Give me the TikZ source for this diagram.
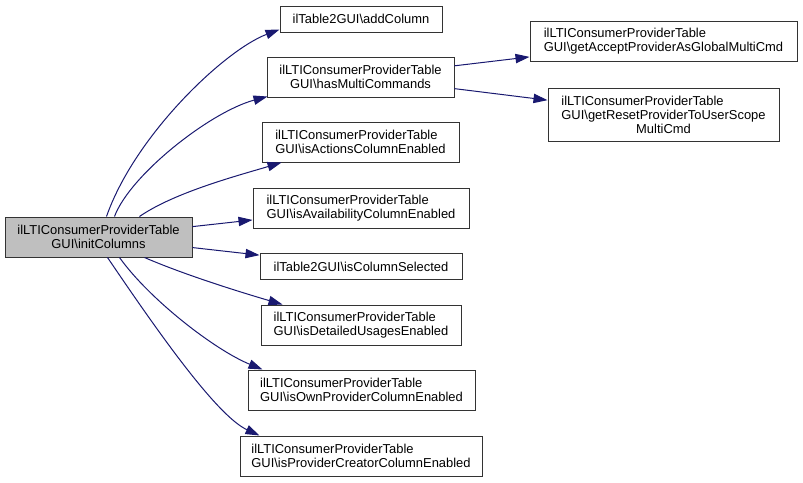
\documentclass[tikz,border=0pt]{standalone}
\usepackage{fontspec}
\setmainfont{Liberation Sans}
\usetikzlibrary{arrows.meta,calc}
\definecolor{EdgeBlue}{rgb}{0.098, 0.098, 0.439}
\definecolor{BoxGray}{rgb}{0.75, 0.75, 0.75}
\tikzset{call graph layout/.style={%
    y=-0.75pt,%
    x=0.75pt,%
    every node/.style={%
        draw=black!80, line width=0.75pt, inner sep=0pt, fill=white,%
        font=\fontsize{9.7}{10.5}\selectfont%
    },%
    call/.style={%
        EdgeBlue, line width=0.75pt, -{Triangle[width=7pt,length=10.5pt]}%
    }%
}}
\tikzset{box one/.style={minimum height=19.5pt, align=center}}
\tikzset{box two/.style={minimum height=30pt}}
\tikzset{box three/.style={minimum height=39.75pt, align=center}}

\begin{document}
\begin{tikzpicture}[call graph layout]
    \useasboundingbox (0,0) rectangle (803,482);

    \node (init) at (98.5,237) [box two, align=center, fill=BoxGray, minimum width=140.25pt]
        {ilLTIConsumerProviderTable\\GUI\textbackslash initColumns};
    \node (addcol) at (361,19) [box one, minimum width=121.5pt]
        {ilTable2GUI\textbackslash addColumn};
    \node (hasmulti) at (360.5,77) [box two, align=center, minimum width=140.25pt]
        {ilLTIConsumerProviderTable\\GUI\textbackslash hasMultiCommands};
    \node (getaccept) at (663.5,41) [box two, align=left, minimum width=200.25pt]
        {ilLTIConsumerProviderTable\\GUI\textbackslash getAcceptProviderAsGlobalMultiCmd};
    \node (getreset) at (663.5,114.5) [box three, minimum width=173.25pt]
        {\rlap{ilLTIConsumerProviderTable}\phantom{GUI\textbackslash getResetProviderToUserScope}\\GUI\textbackslash getResetProviderToUserScope\\MultiCmd};
    \node (isactions) at (360.5,142) [box two, align=left, minimum width=147.75pt]
        {ilLTIConsumerProviderTable\\GUI\textbackslash isActionsColumnEnabled};
    \node (isavail) at (361,208) [box two, align=left, minimum width=162pt]
        {ilLTIConsumerProviderTable\\GUI\textbackslash isAvailabilityColumnEnabled};
    \node (iscolsel) at (361,266.5) [box one, minimum width=151.5pt]
        {ilTable2GUI\textbackslash isColumnSelected};
    \node (isdetailed) at (361,325) [box two, align=left, minimum width=150pt]
        {ilLTIConsumerProviderTable\\GUI\textbackslash isDetailedUsagesEnabled};
    \node (isown) at (361.5,390) [box two, align=left, minimum width=170.25pt]
        {ilLTIConsumerProviderTable\\GUI\textbackslash isOwnProviderColumnEnabled};
    \node (isprov) at (361,456) [box two, align=left, minimum width=181.5pt]
        {ilLTIConsumerProviderTable\\GUI\textbackslash isProviderCreatorColumnEnabled};

    \draw[call] ($(init.north west)+(102,0)$) .. controls (135,135) and (225,50) .. ($(addcol.south west)+(0,-3)$);
    \draw[call] ($(init.north west)+(110,0)$) .. controls (130,175) and (210,112) .. ($(hasmulti.south west)+(1,-1)$);
    \draw[call] ($(init.north west)+(135,0)$) .. controls (175,192) and (240,175) .. ($(isactions.south west)+(20,0)$);
    \draw[call] (init) -- (isavail);
    \draw[call] (init) -- (iscolsel);
    \draw[call] ($(init.south west)+(140,0)$) .. controls (185,275) and (240,292) .. ($(isdetailed.north west)+(22,0)$);
    \draw[call] ($(init.south west)+(115,0)$) .. controls (150,300) and (215,350) .. ($(isown.north west)+(15,0)$);
    \draw[call] ($(init.south west)+(103,0)$) .. controls (150,320) and (215,415) .. ($(isprov.north west)+(20,0)$);
    \draw[call] (hasmulti) -- (getaccept);
    \draw[call] (hasmulti) -- (getreset);
\end{tikzpicture}
\end{document}
